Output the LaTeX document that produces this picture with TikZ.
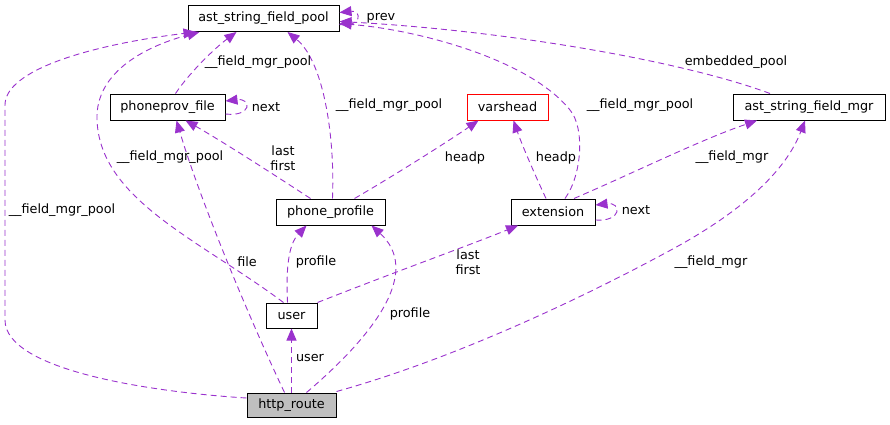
\documentclass[tikz,border=0pt]{standalone}
\usepackage{fontspec}
\setmainfont{DejaVu Sans}
\usetikzlibrary{arrows.meta}
\definecolor{edgepurple}{RGB}{154,50,205}
\definecolor{rootgray}{RGB}{191,191,191}

\begin{document}
\begin{tikzpicture}[x=1pt,y=-1pt,
    cls/.style={draw=black,line width=1pt,minimum height=26pt,inner sep=0pt,font=\fontsize{12.8}{14}\selectfont},
    rel/.style={draw=edgepurple,line width=0.9pt,dash pattern=on 6pt off 4pt,-{Triangle[length=12pt,width=10pt]}},
    lbl/.style={inner sep=0pt,align=center,font=\fontsize{12.8}{15}\selectfont}]
    \useasboundingbox (0,0) rectangle (890,424);
    \node[cls,minimum width=151pt](pool) at (263.5,18.5) {ast\_string\_field\_pool};
    \node[cls,minimum width=115pt](ppf) at (167.5,107) {phoneprov\_file};
    \node[cls,minimum width=81pt,draw=red](vh) at (507.5,107) {varshead};
    \node[cls,minimum width=152pt](mgr) at (809,107) {ast\_string\_field\_mgr};
    \node[cls,minimum width=109pt](pp) at (330.5,212) {phone\_profile};
    \node[cls,minimum width=84pt](ext) at (553,212) {extension};
    \node[cls,minimum width=51pt,minimum height=25pt](usr) at (291.5,315.5) {user};
    \node[cls,minimum width=89pt,minimum height=24pt,fill=rootgray](hr) at (291.5,405) {http\_route};
    \draw[rel] ([yshift=7pt]hr.west) .. controls (150,392) and (5,370) .. (5,320) -- (5,105) .. controls (5,70) and (90,45) .. ([xshift=8pt]pool.south west);
    \draw[rel] ([xshift=-8pt]usr.north) .. controls (200,240) and (100,200) .. (97,120) .. controls (95,70) and (150,45) .. ([xshift=12pt]pool.south west);
    \draw[rel] ([xshift=8pt]ppf.north) .. controls (190,72) and (215,48) .. ([xshift=-27pt]pool.south);
    \draw[rel] ([xshift=2pt]pp.north) .. controls (335,130) and (322,60) .. ([xshift=24pt]pool.south);
    \draw[rel] ([xshift=12pt]ext.north) .. controls (582,175) and (585,128) .. (570,110) .. controls (530,60) and (420,30) .. ([yshift=-5pt]pool.east);
    \draw[rel] ([xshift=-39pt]mgr.north) .. controls (680,60) and (500,30) .. ([yshift=-3pt]pool.east);
    \draw[rel] ([yshift=-6pt]pool.east) .. controls (362,28) and (362,10) .. ([yshift=6pt]pool.east);
    \draw[rel] ([yshift=-7pt]ppf.east) .. controls (252,117) and (252,98) .. ([yshift=6pt]ppf.east);
    \draw[rel] ([xshift=-20pt]pp.north) .. controls (270,172) and (220,140) .. ([xshift=18pt]ppf.south);
    \draw[rel] ([xshift=-7pt]hr.north) .. controls (250,320) and (200,200) .. ([xshift=9pt]ppf.south);
    \draw[rel] ([xshift=-4pt]usr.north) .. controls (286,270) and (288,245) .. ([xshift=-24pt]pp.south);
    \draw[rel] ([xshift=15pt]hr.north) .. controls (380,330) and (420,270) .. ([xshift=41pt]pp.south);
    \draw[rel] ([xshift=24pt]pp.north) .. controls (400,172) and (450,140) .. ([xshift=-29pt]vh.south);
    \draw[rel] ([xshift=-7pt]ext.north) .. controls (535,175) and (522,145) .. ([xshift=6pt]vh.south);
    \draw[rel] ([yshift=-8pt]ext.east) .. controls (622,222) and (622,202) .. ([yshift=7pt]ext.east);
    \draw[rel] ([xshift=21pt]ext.north) .. controls (640,170) and (700,140) .. ([xshift=-52pt]mgr.south);
    \draw[rel] ([yshift=1pt]hr.north east) .. controls (450,360) and (580,300) .. (680,245) .. controls (760,200) and (790,160) .. ([xshift=-4pt]mgr.south);
    \draw[rel] (usr.north east) .. controls (400,270) and (470,245) .. ([xshift=-35pt]ext.south);
    \draw[rel] (hr) -- (usr);
    \node[lbl](l1) at (62,210) {\_\_field\_mgr\_pool};
    \node[lbl](l2) at (170,157) {\_\_field\_mgr\_pool};
    \node[lbl](l3) at (258,62) {\_\_field\_mgr\_pool};
    \node[lbl](l4) at (389,105) {\_\_field\_mgr\_pool};
    \node[lbl](l5) at (640,105) {\_\_field\_mgr\_pool};
    \node[lbl](l6) at (736,62) {embedded\_pool};
    \node[lbl](l7) at (381,18) {prev};
    \node[lbl](l8) at (266,107) {next};
    \node[lbl](l9) at (283,158) {last\\first};
    \node[lbl](l10) at (247,262) {file};
    \node[lbl](l11) at (316,262) {profile};
    \node[lbl](l12) at (410,314) {profile};
    \node[lbl](l13) at (465,158) {headp};
    \node[lbl](l14) at (556,158) {headp};
    \node[lbl](l15) at (636,210) {next};
    \node[lbl](l16) at (732,157) {\_\_field\_mgr};
    \node[lbl](l17) at (711,262) {\_\_field\_mgr};
    \node[lbl](l18) at (468,262) {last\\first};
    \node[lbl](l19) at (310,358) {user};
\end{tikzpicture}
\end{document}
